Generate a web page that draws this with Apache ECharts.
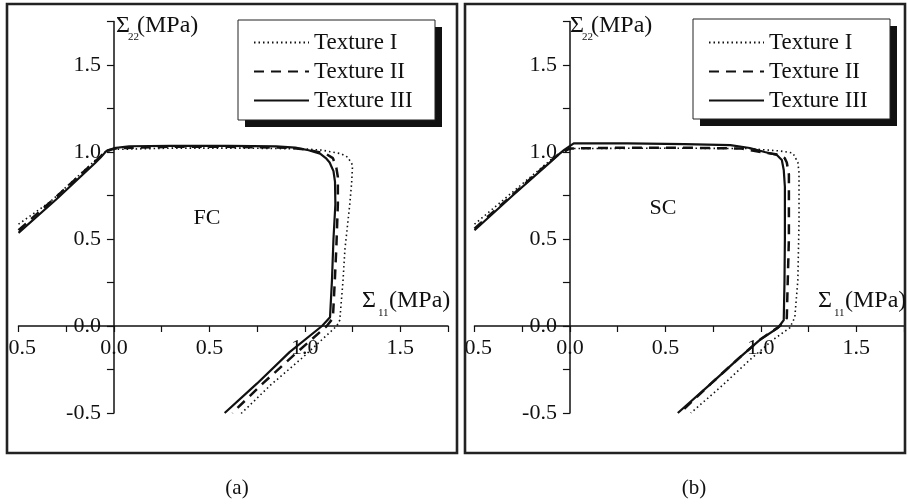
<!DOCTYPE html>
<html>
<head>
<meta charset="utf-8">
<script src="https://cdn.jsdelivr.net/npm/echarts@6/dist/echarts.min.js"></script>
<style>html,body{margin:0;padding:0;background:#fff;}#c{width:908px;height:504px;}</style>
</head>
<body>
<div id="c"></div>
<script>
// ---- data ----
var seriesNames = ['Texture I', 'Texture II', 'Texture III'];
var panelTags = ['FC', 'SC'];
var panelCaptions = ['(a)', '(b)'];

// Panel (a) FC
var fcTexture1 = [[-0.5,0.585],[-0.335,0.713],[-0.1,0.95],[-0.05,1.0],[0.0,1.015],[0.3,1.022],[0.7,1.022],[1.0,1.018],[1.094,1.01],[1.19,0.99],[1.225,0.97],[1.25,0.925],[1.245,0.82],[1.235,0.695],[1.21,0.44],[1.2,0.26],[1.183,0.034],[1.167,0.0],[0.99,-0.18],[0.82,-0.34],[0.66,-0.51]];
var fcTexture2 = [[-0.5,0.55],[-0.3,0.745],[-0.1,0.945],[-0.06,0.985],[-0.03,1.01],[0.02,1.022],[0.3,1.03],[0.6,1.03],[0.9,1.025],[1.0,1.015],[1.05,1.005],[1.11,0.99],[1.147,0.965],[1.165,0.91],[1.173,0.856],[1.173,0.7],[1.165,0.45],[1.157,0.26],[1.147,0.045],[1.115,0.0],[0.95,-0.16],[0.78,-0.33],[0.62,-0.5]];
var fcTexture3 = [[-0.5,0.535],[-0.3,0.73],[-0.1,0.935],[-0.07,0.968],[-0.04,1.005],[0.0,1.022],[0.08,1.033],[0.3,1.035],[0.6,1.035],[0.85,1.032],[0.95,1.025],[1.02,1.01],[1.08,0.99],[1.11,0.965],[1.13,0.94],[1.15,0.89],[1.158,0.83],[1.16,0.7],[1.15,0.5],[1.142,0.26],[1.132,0.05],[1.09,0.0],[0.92,-0.15],[0.75,-0.33],[0.58,-0.5]];

// Panel (b) SC
var scTexture1 = [[-0.5,0.585],[-0.3,0.77],[-0.1,0.955],[-0.04,1.0],[0.02,1.02],[0.5,1.022],[0.93,1.02],[1.1,1.006],[1.168,0.994],[1.194,0.94],[1.2,0.88],[1.2,0.6],[1.194,0.264],[1.178,0.05],[1.152,-0.01],[1.063,-0.08],[0.942,-0.195],[0.79,-0.35],[0.633,-0.5]];
var scTexture2 = [[-0.5,0.56],[-0.3,0.755],[-0.1,0.95],[-0.05,0.995],[0.0,1.02],[0.3,1.025],[0.6,1.025],[0.9,1.02],[1.0,1.0],[1.09,0.985],[1.125,0.965],[1.136,0.94],[1.147,0.87],[1.147,0.5],[1.141,0.26],[1.136,0.045],[1.1,0.0],[1.0,-0.075],[0.9,-0.17],[0.74,-0.33],[0.575,-0.5]];
var scTexture3 = [[-0.5,0.55],[-0.3,0.75],[-0.1,0.945],[-0.06,0.985],[-0.03,1.012],[0.02,1.05],[0.3,1.05],[0.6,1.045],[0.84,1.04],[0.942,1.023],[1.02,1.0],[1.084,0.983],[1.11,0.954],[1.12,0.897],[1.126,0.8],[1.126,0.5],[1.124,0.26],[1.12,0.034],[1.09,-0.01],[0.995,-0.08],[0.89,-0.18],[0.73,-0.34],[0.565,-0.5]];

var xMin = -0.5, xMax = 1.75, yMin = -0.5, yMax = 1.75, tickStep = 0.25;

// ---- layout ----
var FONT = "'Liberation Serif', 'Times New Roman', serif";
var GW = 429.5, GH = 391.5, GTOP = 21.5;
var gridLefts = [18.5, 474.5];
// axes cross at zero: offsets derived from the axis ranges
var yAxisOffset = -(0 - xMin) / (xMax - xMin) * GW;
var xAxisOffset = -(0 - yMin) / (yMax - yMin) * GH;

var chart = echarts.init(document.getElementById('c'));
function lbl(v){ return Math.abs(v*2 - Math.round(v*2)) < 1e-6 ? v.toFixed(1) : ''; }
function xAx(i){ return {gridIndex:i,type:'value',min:xMin,max:xMax,interval:tickStep,position:'bottom',offset:xAxisOffset,
  axisLine:{onZero:false,lineStyle:{color:'#111',width:1.5}},
  axisTick:{show:true,inside:false,length:6,lineStyle:{color:'#111',width:1.2}},
  axisLabel:{formatter:lbl,color:'#111',fontFamily:FONT,fontSize:22,margin:11,showMinLabel:true,showMaxLabel:true,hideOverlap:false},
  splitLine:{show:false}}; }
function yAx(i){ return {gridIndex:i,type:'value',min:yMin,max:yMax,interval:tickStep,position:'left',offset:yAxisOffset,
  axisLine:{onZero:false,lineStyle:{color:'#111',width:1.5}},
  axisTick:{show:true,inside:false,length:7,lineStyle:{color:'#111',width:1.2}},
  axisLabel:{formatter:lbl,color:'#111',fontFamily:FONT,fontSize:22,margin:13,hideOverlap:false},
  splitLine:{show:false}}; }
var styles = [
  {type:[1.5,3],width:1.6},
  {type:[10,7],width:2.5},
  {type:'solid',width:2.2}
];
var dataSets = [[fcTexture1,fcTexture2,fcTexture3],[scTexture1,scTexture2,scTexture3]];
var series = [];
for (var p=0;p<2;p++){
  for (var s=0;s<3;s++){
    series.push({name:seriesNames[s],type:'line',xAxisIndex:p,yAxisIndex:p,data:dataSets[p][s],
      showSymbol:false,symbol:'none',smooth:false,animation:false,
      lineStyle:{color:'#111',type:styles[s].type,width:styles[s].width},itemStyle:{color:'#111'},z:2+s});
  }
}
function legend(left){ return {data:seriesNames,orient:'vertical',left:left,top:31,
  padding:0,itemGap:6,itemWidth:55,itemHeight:14,selectedMode:false,
  itemStyle:{color:'rgba(0,0,0,0)',borderColor:'rgba(0,0,0,0)',borderWidth:0,opacity:0},
  textStyle:{color:'#111',fontFamily:FONT,fontSize:23,lineHeight:23}}; }
function txt(x,y,t,size,align){ return {type:'text',x:x,y:y,z:20,
  style:{text:t,fill:'#111',font:size+'px '+FONT,textAlign:align||'left',textVerticalAlign:'middle'}}; }
function legendBox(x,y){ return [
  {type:'rect',shape:{x:x+7,y:y+7,width:197,height:100},style:{fill:'#111'},z:1},
  {type:'rect',shape:{x:x,y:y,width:197,height:100},style:{fill:'#fff',stroke:'#222',lineWidth:1},z:2}
]; }
var graphic = [].concat(
  legendBox(238,20), legendBox(693,19),
  [
  {type:'rect',shape:{x:0,y:0,width:7,height:504},style:{fill:'#fff'},z:15},
  {type:'rect',shape:{x:458,y:0,width:6,height:504},style:{fill:'#fff'},z:15},
  {type:'rect',shape:{x:7,y:4,width:450,height:449},style:{fill:'none',stroke:'#222',lineWidth:2.6},z:16},
  {type:'rect',shape:{x:465,y:4,width:440,height:449},style:{fill:'none',stroke:'#222',lineWidth:2.6},z:16},
  // axis titles panel a
  txt(116,26,'Σ',24), txt(128,37,'22',11), txt(137,26,'(MPa)',24),
  txt(362,301,'Σ',24), txt(378,313,'11',11), txt(389,301,'(MPa)',24),
  // axis titles panel b
  txt(570,26,'Σ',24), txt(582,37,'22',11), txt(591,26,'(MPa)',24),
  txt(818,301,'Σ',24), txt(834,313,'11',11), txt(845,301,'(MPa)',24),
  txt(207,218,panelTags[0],22,'center'), txt(663,208,panelTags[1],22,'center'),
  txt(237,488,panelCaptions[0],21,'center'), txt(694,488,panelCaptions[1],21,'center')
  ]);
chart.setOption({
  animation:false,
  backgroundColor:'#fff',
  grid:[{left:gridLefts[0],width:GW,top:GTOP,height:GH,containLabel:false,outerBoundsMode:'none'},
        {left:gridLefts[1],width:GW,top:GTOP,height:GH,containLabel:false,outerBoundsMode:'none'}],
  xAxis:[xAx(0),xAx(1)],
  yAxis:[yAx(0),yAx(1)],
  legend:[legend(253),legend(708)],
  series:series,
  graphic:graphic
});
</script>
</body>
</html>
